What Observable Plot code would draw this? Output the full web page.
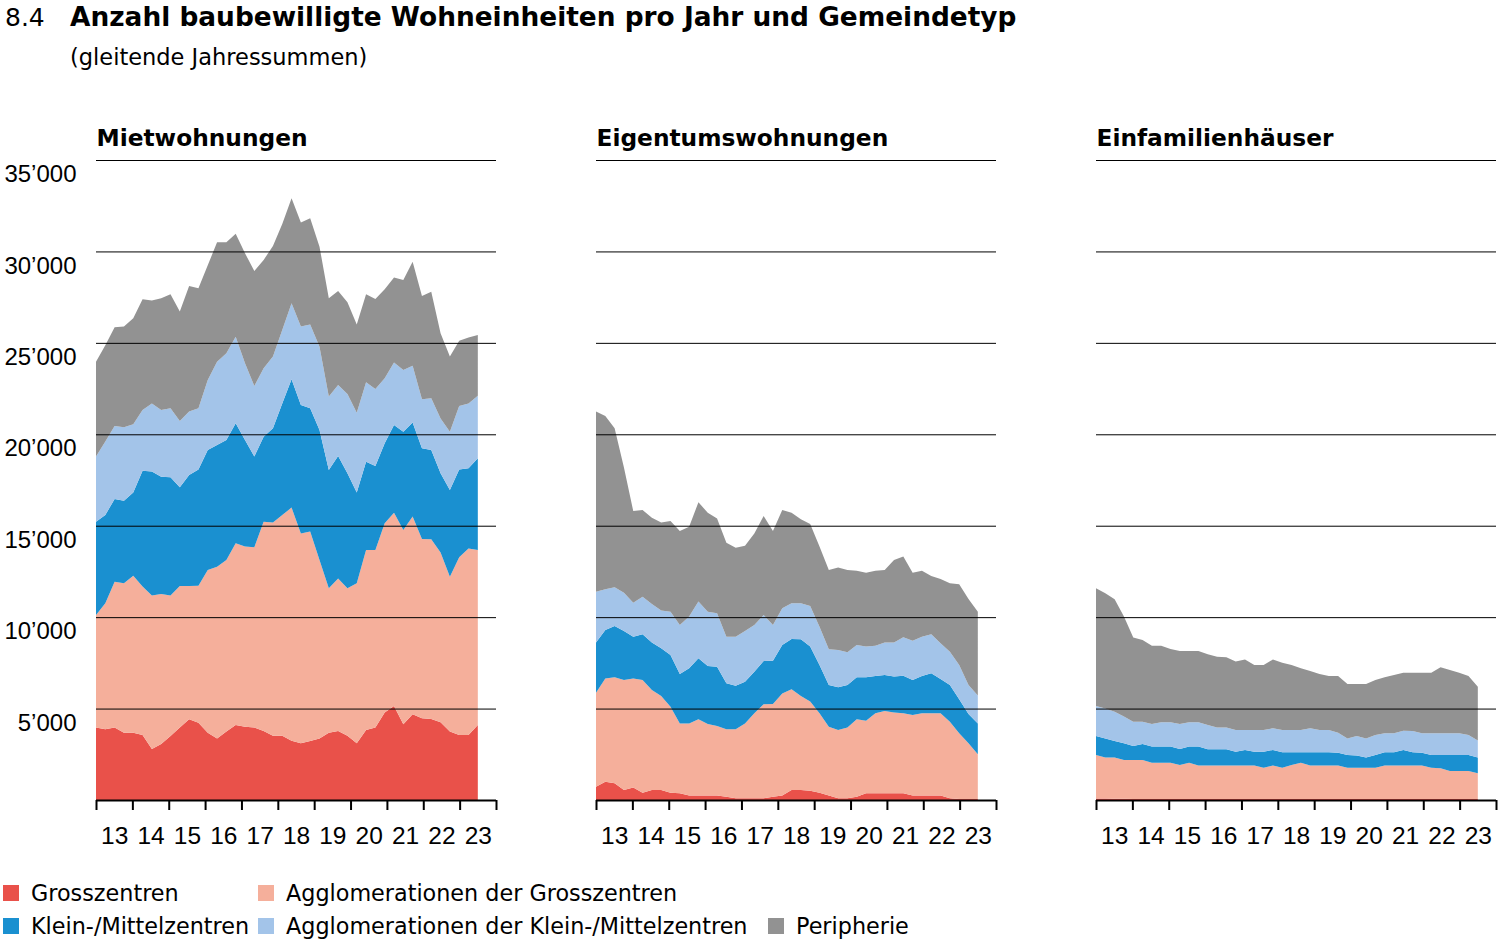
<!DOCTYPE html>
<html>
<head>
<meta charset="utf-8">
<script src="https://cdn.jsdelivr.net/npm/d3@7"></script>
<script src="https://cdn.jsdelivr.net/npm/@observablehq/plot@0.6"></script>
<style>
  html, body { margin: 0; padding: 0; background: #fff; }
  body { width: 1500px; height: 948px; position: relative; overflow: hidden; font-family: "DejaVu Sans", sans-serif; color: #000; }
  .hd { position: absolute; white-space: nowrap; line-height: 1; }
  #num { left: 5px; top: 5px; font-size: 25px; }
  #title { left: 70px; top: 4px; font-size: 26.4px; font-weight: bold; }
  #sub { left: 70px; top: 46px; font-size: 22.5px; }
  #chart { position: absolute; left: 0; top: 90px; }
  .leg { position: absolute; display: flex; align-items: center; white-space: nowrap; font-size: 22.3px; line-height: 1; height: 22px; }
  .sw { width: 16px; height: 16px; margin-right: 12px; flex: none; }
</style>
</head>
<body>
<div id="num" class="hd">8.4</div>
<div id="title" class="hd">Anzahl baubewilligte Wohneinheiten pro Jahr und Gemeindetyp</div>
<div id="sub" class="hd">(gleitende Jahressummen)</div>
<div id="chart"></div>
<div id="legend"></div>
<script>
// ---- categories ----
const types = ["Mietwohnungen", "Eigentumswohnungen", "Einfamilienhäuser"];
const seriesNames = ["Grosszentren", "Agglomerationen der Grosszentren", "Klein-/Mittelzentren", "Agglomerationen der Klein-/Mittelzentren", "Peripherie"];
const colors = ["#e9514a", "#f5af9b", "#1a90d0", "#a3c4e9", "#929292"];
const yTicks = [5000, 10000, 15000, 20000, 25000, 30000, 35000];
const yearBounds = [2013, 2014, 2015, 2016, 2017, 2018, 2019, 2020, 2021, 2022, 2023, 2024];
const yearLabels = ["13", "14", "15", "16", "17", "18", "19", "20", "21", "22", "23"];
// 42 rolling-sum observations spanning 2013 to mid-2023 (evenly spaced in time)
const nPoints = 42;
const periods = d3.range(nPoints).map(i => 2013 + i * 10.5 / (nPoints - 1));

// ---- Mietwohnungen ----
const miet_gross    = [3960,3870,3960,3680,3680,3560,2790,3060,3500,3960,4410,4230,3680,3370,3740,4100,4010,3970,3770,3520,3520,3240,3100,3230,3370,3680,3770,3520,3100,3830,3960,4780,5140,4140,4690,4470,4430,4250,3740,3560,3560,4100];
const miet_aggGross = [6160,6890,7980,8170,8590,8110,8390,8210,7680,7740,7290,7490,8900,9390,9390,9940,9850,9850,11450,11650,12070,12750,11480,11450,9760,7900,8350,8060,8750,9840,9710,10350,10570,10630,10810,9800,9830,9280,8470,9710,10200,9570];
const miet_km       = [5100,4830,4520,4520,4540,6340,6780,6410,6470,5400,6070,6360,6560,6660,6560,6560,5830,4960,4650,5160,6100,7020,7020,6740,7110,6470,6690,6290,4960,4830,4600,4380,4800,5370,5140,4960,4880,4340,4740,4810,4380,5020];
const miet_aggKm    = [3560,4010,3990,4010,3740,3320,3730,3650,3770,3630,3470,3340,3830,4550,4740,4740,4190,3860,3740,3920,4010,4150,4290,4590,4550,4010,3890,4330,4370,4340,4210,3550,3410,3380,3110,2680,2830,3000,3190,3470,3550,3420];
const miet_per      = [5190,5270,5400,5510,5790,6050,5620,6110,6240,5980,6870,6560,6270,6530,6070,5620,6020,6290,5920,6050,5800,5750,5690,5800,5470,5380,5140,5020,4830,4820,4920,4870,4650,4920,5690,5650,5830,4650,4110,3570,3600,3320];

// ---- Eigentumswohnungen ----
const eig_gross    = [730,1000,910,550,690,400,550,550,400,370,240,240,240,240,180,90,90,90,90,180,240,550,550,510,400,240,90,90,180,370,370,370,370,370,240,240,240,240,90,60,60,60];
const eig_aggGross = [5140,5650,5800,6010,5960,6160,5470,5140,4700,3820,3950,4170,3920,3810,3690,3780,4100,4650,5140,5070,5590,5500,5140,4870,4340,3770,3740,3880,4230,3970,4370,4500,4420,4370,4410,4500,4500,4500,4190,3590,3040,2440];
const eig_km       = [2750,2650,2810,2680,2280,2500,2590,2610,2830,2700,3010,3340,3170,3240,2510,2380,2280,2280,2370,2370,2650,2760,3100,3010,2640,2280,2330,2320,2300,2370,2040,1970,1960,2060,1910,2040,2190,1880,2010,1860,1600,1690];
const eig_aggKm    = [2770,2220,2110,2100,1860,2060,2110,2060,2370,2680,2830,3100,2970,2920,2550,2680,2770,2550,2520,1950,2000,1950,1970,2220,2100,1950,2040,1790,1770,1680,1660,1770,1870,2100,2150,2150,2130,1950,1820,1870,1590,1520];
const eig_per      = [9850,9480,8700,6840,5010,4740,4720,4810,4960,5140,4920,5430,5410,5190,5140,4870,4670,5010,5410,5140,5380,4950,4590,4490,4380,4340,4510,4500,4060,4040,4100,3970,4510,4410,3720,3610,3190,3520,3740,4420,4700,4590];

// ---- Einfamilienhäuser ----
const efh_gross    = [80,80,70,70,60,60,60,60,60,60,60,60,60,60,60,60,60,60,60,60,60,60,60,60,60,60,60,60,60,60,60,60,60,60,60,60,60,60,60,60,60,60];
const efh_aggGross = [2380,2250,2250,2120,2130,2130,1980,1980,1980,1860,1980,1820,1820,1820,1820,1820,1820,1820,1710,1820,1710,1860,1980,1820,1820,1820,1820,1710,1710,1710,1710,1820,1820,1820,1820,1820,1710,1670,1530,1530,1530,1400];
const efh_km       = [1040,1040,910,910,760,870,880,880,880,870,880,1040,890,890,890,760,860,760,870,860,840,690,570,730,730,730,710,690,660,560,690,730,730,860,730,710,690,730,870,870,870,870];
const efh_aggKm    = [1640,1640,1600,1460,1330,1220,1240,1330,1330,1370,1330,1330,1330,1200,1190,1190,1090,1190,1190,1180,1220,1220,1220,1310,1220,1220,1090,910,1070,1040,1100,1040,1040,1050,1160,1060,1190,1190,1190,1190,1100,920];
const efh_per      = [6440,6290,6150,5470,4600,4470,4280,4190,4010,3990,3900,3900,3870,3870,3840,3740,3860,3550,3550,3770,3680,3550,3370,3140,3060,2950,3100,2970,2840,2970,3000,3060,3190,3170,3190,3310,3310,3610,3460,3310,3220,2950];

const panelSeries = [
  [miet_gross, miet_aggGross, miet_km, miet_aggKm, miet_per],
  [eig_gross, eig_aggGross, eig_km, eig_aggKm, eig_per],
  [efh_gross, efh_aggGross, efh_km, efh_aggKm, efh_per]
];

const rows = [];
types.forEach((type, ti) => {
  panelSeries[ti].forEach((arr, si) => {
    arr.forEach((v, i) => rows.push({type, series: seriesNames[si], t: periods[i], value: v}));
  });
});

const labelPos = yearLabels.map((l, i) => ({x: yearBounds[i] + 0.5, label: l}));
const fmt = d => d3.format(",")(d).replace(/,/g, "\u2019");

const chart = Plot.plot({
  width: 1500,
  height: 770,
  marginLeft: 95,
  marginRight: 4,
  marginTop: 70,
  marginBottom: 60,
  style: {fontFamily: "'Liberation Sans', Arial, sans-serif", fontSize: "24px", color: "#000", background: "#fff", overflow: "visible"},
  fx: {domain: types, paddingInner: 0.2, paddingOuter: 0, axis: null, label: null},
  x: {domain: [2013, 2024], axis: null},
  y: {domain: [0, 35000], axis: null},
  color: {domain: seriesNames, range: colors},
  marks: [
    Plot.areaY(rows, {fx: "type", x: "t", y: "value", z: "series", fill: "series", order: seriesNames}),
    Plot.gridY(yTicks, {stroke: "#000", strokeOpacity: 1, strokeWidth: 1}),
    Plot.axisY(yTicks, {tickSize: 0, tickPadding: 20, tickFormat: fmt, dy: 14, fontSize: 24, label: null}),
    Plot.ruleY([0], {stroke: "#000", strokeWidth: 2}),
    Plot.axisX(yearBounds, {tickSize: 10, strokeWidth: 2, stroke: "#000", tickFormat: () => "", label: null}),
    Plot.text(labelPos, {x: "x", text: "label", frameAnchor: "bottom", lineAnchor: "middle", dy: 36, fontSize: 24.5}),
    Plot.text(types, {fx: d => d, text: d => d, frameAnchor: "top-left", lineAnchor: "middle", dy: -22, fontWeight: "bold", fontSize: 23.3, fontFamily: "'DejaVu Sans', sans-serif"})
  ]
});
document.getElementById("chart").appendChild(chart);

// ---- legend ----
const legendSlots = [[3, 882], [258, 882], [3, 915], [258, 915], [768, 915]];
const legend = document.getElementById("legend");
seriesNames.forEach((name, si) => {
  const d = document.createElement("div");
  d.className = "leg";
  d.style.left = legendSlots[si][0] + "px";
  d.style.top = legendSlots[si][1] + "px";
  const sw = document.createElement("span");
  sw.className = "sw";
  sw.style.background = colors[si];
  const tx = document.createElement("span");
  tx.textContent = name;
  d.appendChild(sw); d.appendChild(tx);
  legend.appendChild(d);
});
</script>
</body>
</html>
